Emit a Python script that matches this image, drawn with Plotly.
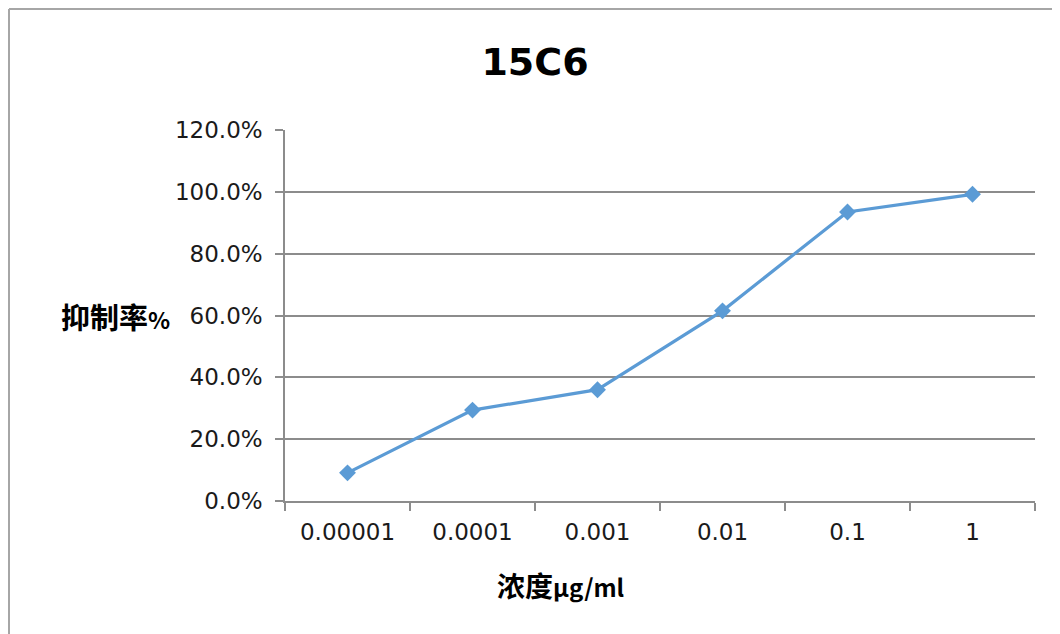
import plotly.graph_objects as go

categories = ["0.00001", "0.0001", "0.001", "0.01", "0.1", "1"]
inhibition = [0.091, 0.294, 0.360, 0.615, 0.935, 0.992]
y_ticks = [0.0, 0.2, 0.4, 0.6, 0.8, 1.0, 1.2]

title_text = "15C6"
y_label = "抑制率"
x_label = "浓度"

OFF = 8  # page body margin
W, H = 1060 - OFF, 634 - OFF
# plot area in reference (window) pixels
L, R, T, B = 285, 1035, 130, 501


def px(x):
    return (x - L) / (R - L)


def py(y):
    return (B - y) / (B - T)


fig = go.Figure()
fig.add_trace(go.Scatter(
    x=categories, y=inhibition, mode="lines+markers",
    line=dict(color="#5b9bd5", width=3.2),
    marker=dict(symbol="diamond", size=13, color="#5b9bd5"),
    showlegend=False, hoverinfo="skip",
))

fig.update_layout(
    width=W, height=H,
    margin=dict(l=L - OFF, r=W - (R - OFF), t=T - OFF, b=H - (B - OFF), pad=0),
    paper_bgcolor="white", plot_bgcolor="white",
    title=dict(text="<b>" + title_text + "</b>", x=(535 - OFF) / W, y=1 - (62 - OFF) / H,
               xanchor="center", yanchor="middle",
               font=dict(family="DejaVu Sans", size=38, color="black")),
    font=dict(family="DejaVu Sans", size=23, color="#1a1a1a"),
)

fig.update_xaxes(
    type="category", range=[-0.5, 5.5], tickson="boundaries",
    showline=True, linecolor="#8c8c8c", linewidth=1.5,
    ticks="outside", ticklen=8, tickcolor="#8c8c8c", tickwidth=1.5,
    showgrid=False, tickfont=dict(family="DejaVu Sans", size=23, color="#1a1a1a"),
    ticklabelstandoff=10,
)
fig.update_yaxes(
    range=[0, 1.2], tickvals=y_ticks, tickformat=".1%",
    showline=True, linecolor="#8c8c8c", linewidth=1.5,
    ticks="outside", ticklen=8, tickcolor="#8c8c8c", tickwidth=1.5,
    showgrid=True, gridcolor="#8c8c8c", gridwidth=1.5, zeroline=False,
    tickfont=dict(family="DejaVu Sans", size=23, color="#1a1a1a"),
    ticklabelstandoff=8,
)

fig.add_annotation(
    xref="paper", yref="paper", x=px(172), y=py(316), xanchor="right", yanchor="middle",
    text="<b>" + y_label + "<span style='font-size:23px'>%</span></b>",
    showarrow=False, font=dict(family="Noto Sans CJK SC", size=29, color="black"),
)
fig.add_annotation(
    xref="paper", yref="paper", x=px(561), y=py(585), xanchor="center", yanchor="middle",
    text="<b>" + x_label + "<span style='font-size:24px'>μg/ml</span></b>",
    showarrow=False, font=dict(family="Noto Sans CJK SC", size=28, color="black"),
)

border = "#a6a6a6"
fig.add_shape(type="line", xref="paper", yref="paper",
              x0=px(9), x1=px(9), y0=py(9), y1=py(660), line=dict(color=border, width=2))
fig.add_shape(type="line", xref="paper", yref="paper",
              x0=px(9), x1=px(1080), y0=py(9), y1=py(9), line=dict(color=border, width=2))

fig.write_html("out.html")
